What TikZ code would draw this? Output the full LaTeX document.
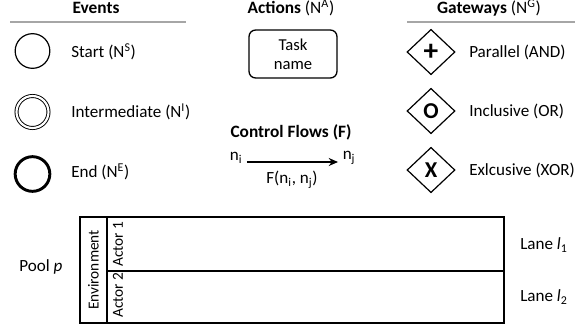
\documentclass[tikz,border=0pt]{standalone}
\usepackage{fontspec}
\setmainfont{Carlito}
\usetikzlibrary{shapes.geometric,positioning,arrows.meta}

\tikzset{
  heading/.style={font=\fontsize{13}{15}\selectfont\bfseries},
  label/.style={anchor=west, inner sep=0pt},
  event/.style={draw, circle, minimum size=26pt, inner sep=0pt},
  gateway/.style={draw, diamond, line width=0.9pt, minimum width=36pt, minimum height=34pt, inner sep=0pt, font=\fontsize{17}{18}\selectfont\bfseries},
  rule/.style={draw=gray!70, line width=0.8pt},
  lanebox/.style={line width=1.4pt},
  lanetext/.style={rotate=90, inner sep=0pt, font=\fontsize{11.5}{13}\selectfont}
}

\begin{document}
\begin{tikzpicture}[x=0.75pt, y=-0.75pt, every node/.style={font=\fontsize{12.8}{15}\selectfont}]
    \useasboundingbox (0,0) rectangle (575,326);

    % Events
    \node[heading] (events-label) at (96,8) {Events};
    \draw[rule] (10,22) -- (186,22);
    \node[event, line width=0.9pt] (start) at (32.5,51) {};
    \node[event, minimum size=24pt, double, double distance=1.6pt, line width=0.7pt] (inter) at (32.5,112) {};
    \node[event, line width=2.2pt] (end) at (32.5,174) {};
    \node[label] (start-text) at (71,52) {Start (N\textsuperscript{S})};
    \node[label] (inter-text) at (71,112) {Intermediate (N\textsuperscript{I})};
    \node[label] (end-text) at (71,172) {End (N\textsuperscript{E})};

    % Actions
    \node[heading] (actions-label) at (291,8) {Actions \mdseries(N\textsuperscript{A})};
    \node[draw, rectangle, rounded corners=5pt, line width=1pt, minimum width=66pt, minimum height=36pt, align=center, font=\fontsize{12.5}{14}\selectfont] (task) at (293,54) {Task\\name};

    % Control flow
    \node[heading] (flows-label) at (291,132) {Control Flows (F)};
    \node (ni) at (236,158) {n\textsubscript{i}};
    \node (nj) at (349,158) {n\textsubscript{j}};
    \draw[-{Stealth[length=7pt, width=6pt]}, line width=1.7pt] (ni.east |- 0,162) -- (nj.west |- 0,162);
    \node (flow-text) at (292,180) {F(n\textsubscript{i}, n\textsubscript{j})};

    % Gateways
    \node[heading] (gateways-label) at (489,8) {Gateways \mdseries(N\textsuperscript{G})};
    \draw[rule] (407,22) -- (575,22);
    \node[gateway, font=\fontsize{22}{22}\selectfont\bfseries] (and) at (431,52) {+};
    \node[gateway] (or) at (431,111) {O};
    \node[gateway] (xor) at (431,170) {X};
    \node[label] (and-text) at (469,52) {Parallel (AND)};
    \node[label] (or-text) at (469,111) {Inclusive (OR)};
    \node[label] (xor-text) at (469,170) {Exlcusive (XOR)};

    % Pool
    \node (pool-label) at (41,267) {Pool \textit{p}};
    \draw[lanebox] (80,217) rectangle (504,323);
    \draw[lanebox] (107,217) -- (107,323);
    \draw[lanebox] (107,271) -- (504,271);
    \node[lanetext] (env) at (93.5,270) {Environment};
    \node[lanetext] (actor1) at (118,244) {Actor 1};
    \node[lanetext] (actor2) at (118,295) {Actor 2};
    \node[label] (lane1) at (520,245) {Lane \textit{l}\textsubscript{1}};
    \node[label] (lane2) at (520,297) {Lane \textit{l}\textsubscript{2}};
\end{tikzpicture}
\end{document}
